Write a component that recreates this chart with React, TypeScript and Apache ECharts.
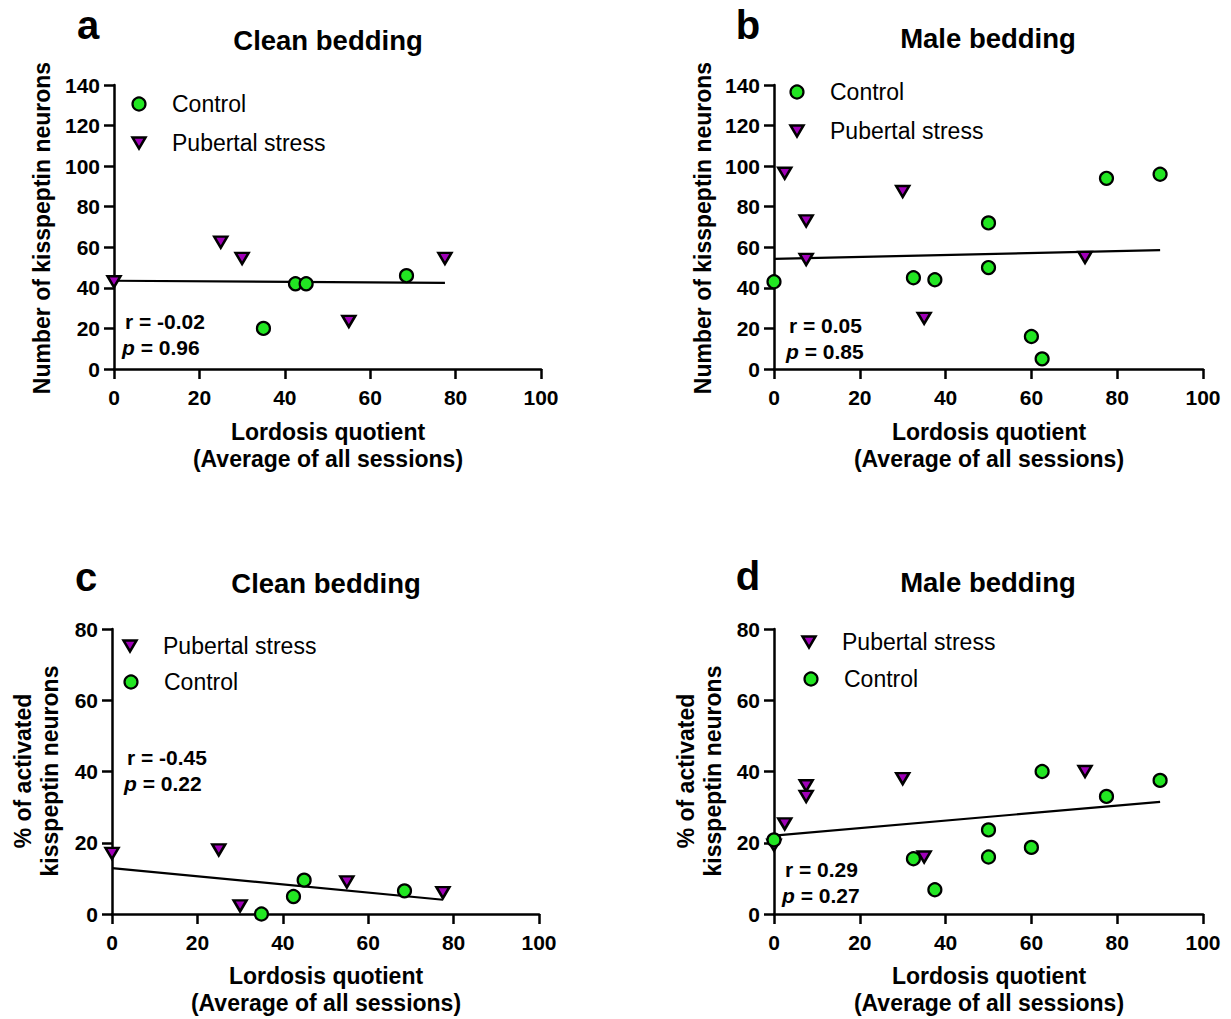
import React, { useEffect, useRef } from "react";
import * as echarts from "echarts";

const FONT = "'Liberation Sans', Arial, sans-serif";

// x = Lordosis quotient, y = value
const xTicks = [0, 20, 40, 60, 80, 100];

// Panel a: Clean bedding, number of kisspeptin neurons
const aControl = [[35, 20], [42.5, 42], [45, 42], [68.5, 46]];
const aStress = [[0, 43], [25, 62.5], [30, 54.5], [55, 23.5], [77.5, 54.5]];
const aFit = [[0, 43.5], [77.5, 42.5]];

// Panel b: Male bedding, number of kisspeptin neurons
const bControl = [[0, 43], [32.5, 45], [37.5, 44], [50, 72], [50, 50], [60, 16], [62.5, 5], [77.5, 94], [90, 96]];
const bStress = [[2.5, 96.5], [7.5, 73], [7.5, 54], [30, 87.5], [35, 25], [72.5, 55]];
const bFit = [[0, 54.3], [90, 58.6]];

// Panel c: Clean bedding, % activated
const cStress = [[0, 17], [25, 18], [30, 2.3], [55, 9], [77.5, 6]];
const cControl = [[35, 0], [42.5, 4.9], [45, 9.5], [68.5, 6.5]];
const cFit = [[0, 12.9], [77.5, 4]];

// Panel d: Male bedding, % activated
const dStress = [[0, 19.3], [2.5, 25.3], [7.5, 36], [7.5, 33], [30, 38], [35, 16], [72.5, 40]];
const dControl = [[0, 20.8], [32.5, 15.5], [37.5, 6.8], [50, 23.6], [50, 16], [60, 18.7], [62.5, 40], [77.5, 33], [90, 37.5]];
const dFit = [[0, 22], [90, 31.5]];

const yMaxTop = 140;
const yMaxBottom = 80;

const stats = [
  { r: "-0.02", p: "0.96" },
  { r: "0.05", p: "0.85" },
  { r: "-0.45", p: "0.22" },
  { r: "0.29", p: "0.27" },
];

const GREEN = "#22e622";
const PURPLE = "#a000b8";
const TRI = "path://M0,0 L20,0 L10,17 Z";

const grids = [
  { left: 114, top: 85, width: 427, height: 284 },
  { left: 774, top: 85, width: 429, height: 284 },
  { left: 112, top: 629, width: 427, height: 285 },
  { left: 774, top: 629, width: 429, height: 285 },
];

function xAxisCfg(i: number) {
  return {
    type: "value",
    gridIndex: i,
    min: xTicks[0],
    max: xTicks[xTicks.length - 1],
    interval: 20,
    axisLine: { show: true, onZero: false, lineStyle: { color: "#000", width: 2.5 } },
    axisTick: { show: true, length: 10, lineStyle: { color: "#000", width: 2.5 } },
    axisLabel: { color: "#000", fontSize: 21, fontWeight: "bold", fontFamily: FONT, margin: 18 },
    splitLine: { show: false },
  };
}
function yAxisCfg(i: number, max: number) {
  return {
    type: "value",
    gridIndex: i,
    min: 0,
    max,
    interval: 20,
    axisLine: { show: true, onZero: false, lineStyle: { color: "#000", width: 2.5 } },
    axisTick: { show: true, length: 10, lineStyle: { color: "#000", width: 2.5 } },
    axisLabel: { color: "#000", fontSize: 21, fontWeight: "bold", fontFamily: FONT, margin: 14 },
    splitLine: { show: false },
  };
}

function ctrlSeries(i: number, data: number[][]) {
  return {
    type: "scatter",
    name: "Control",
    xAxisIndex: i,
    yAxisIndex: i,
    data,
    symbol: "circle",
    symbolSize: 13,
    clip: false,
    z: 4,
    itemStyle: { color: GREEN, borderColor: "#000", borderWidth: 2.2, opacity: 1 },
  };
}
function stressSeries(i: number, data: number[][]) {
  return {
    type: "scatter",
    name: "Pubertal stress",
    xAxisIndex: i,
    yAxisIndex: i,
    data,
    symbol: TRI,
    symbolSize: [13, 11],
    clip: false,
    z: 3,
    itemStyle: { color: PURPLE, borderColor: "#000", borderWidth: 2.5, opacity: 1 },
  };
}
function fitSeries(i: number, data: number[][]) {
  return {
    type: "line",
    xAxisIndex: i,
    yAxisIndex: i,
    data,
    symbol: "none",
    clip: false,
    z: 2,
    lineStyle: { color: "#000", width: 2.2 },
  };
}

function txt(text: string, x: number, y: number, size: number, weight: string, align = "center", rotation = 0) {
  return {
    type: "text",
    x,
    y,
    rotation,
    style: {
      text,
      x: 0,
      y: 0,
      fill: "#000",
      fontFamily: FONT,
      fontSize: size,
      fontWeight: weight,
      font: `${weight} ${size}px ${FONT}`,
      textAlign: align,
      align,
      textVerticalAlign: "middle",
      verticalAlign: "middle",
    },
  };
}

function statText(i: number, x: number, y: number) {
  const base = { fill: "#000", fontFamily: FONT, fontSize: 21, fontWeight: "bold" };
  return [
    {
      type: "text",
      x,
      y,
      style: {
        ...base,
        text: `r = ${stats[i].r}`,
        font: `bold 21px ${FONT}`,
        textAlign: "left",
        align: "left",
        textVerticalAlign: "middle",
        verticalAlign: "middle",
      },
    },
    {
      type: "text",
      x: x - 3,
      y: y + 26,
      style: {
        ...base,
        text: `{i|p}{n| = ${stats[i].p}}`,
        font: `bold 21px ${FONT}`,
        textAlign: "left",
        align: "left",
        textVerticalAlign: "middle",
        verticalAlign: "middle",
        rich: {
          i: { fontStyle: "italic", fontWeight: "bold", fontSize: 21, fontFamily: FONT, fill: "#000" },
          n: { fontWeight: "bold", fontSize: 21, fontFamily: FONT, fill: "#000" },
        },
      },
    },
  ];
}

function legendItem(kind: "c" | "t", x: number, y: number, label: string) {
  const marker =
    kind === "c"
      ? {
          type: "circle",
          shape: { cx: x, cy: y, r: 6.5 },
          style: { fill: GREEN, stroke: "#000", lineWidth: 2.2 },
        }
      : {
          type: "polygon",
          shape: { points: [[x - 6.5, y - 5.5], [x + 6.5, y - 5.5], [x, y + 5.5]] },
          style: { fill: PURPLE, stroke: "#000", lineWidth: 2.5 },
        };
  return [marker, txt(label, x + 33, y, 23, "normal", "left")];
}

export default function App() {
  const ref = useRef<HTMLDivElement>(null);
  useEffect(() => {
    if (!ref.current) return;
    const chart = echarts.init(ref.current, undefined, { renderer: "svg" });
    const R = Math.PI / 2;
    const graphic: any[] = [
      // panel letters
      txt("a", 88, 25, 40, "bold"),
      txt("b", 748, 25, 40, "bold"),
      txt("c", 86, 577, 40, "bold"),
      txt("d", 748, 576, 40, "bold"),
      // titles
      txt("Clean bedding", 328, 40, 27.5, "bold"),
      txt("Male bedding", 988, 38, 27.5, "bold"),
      txt("Clean bedding", 326, 583, 27.5, "bold"),
      txt("Male bedding", 988, 582, 27.5, "bold"),
      // y axis names
      txt("Number of kisspeptin neurons", 42, 228, 23, "bold", "center", R),
      txt("Number of kisspeptin neurons", 703, 228, 23, "bold", "center", R),
      txt("% of activated", 23, 771, 23, "bold", "center", R),
      txt("kisspeptin neurons", 50, 771, 23, "bold", "center", R),
      txt("% of activated", 686, 771, 23, "bold", "center", R),
      txt("kisspeptin neurons", 713, 771, 23, "bold", "center", R),
      // x axis names
      txt("Lordosis quotient", 328, 432, 23, "bold"),
      txt("(Average of all sessions)", 328, 459, 23, "bold"),
      txt("Lordosis quotient", 989, 432, 23, "bold"),
      txt("(Average of all sessions)", 989, 459, 23, "bold"),
      txt("Lordosis quotient", 326, 976, 23, "bold"),
      txt("(Average of all sessions)", 326, 1003, 23, "bold"),
      txt("Lordosis quotient", 989, 976, 23, "bold"),
      txt("(Average of all sessions)", 989, 1003, 23, "bold"),
      // legends
      ...legendItem("c", 139, 104, "Control"),
      ...legendItem("t", 139, 143, "Pubertal stress"),
      ...legendItem("c", 797, 92, "Control"),
      ...legendItem("t", 797, 131, "Pubertal stress"),
      ...legendItem("t", 130, 646, "Pubertal stress"),
      ...legendItem("c", 131, 682, "Control"),
      ...legendItem("t", 809, 642, "Pubertal stress"),
      ...legendItem("c", 811, 679, "Control"),
      // stats
      ...statText(0, 125, 321),
      ...statText(1, 789, 325),
      ...statText(2, 127, 757),
      ...statText(3, 785, 869),
    ];

    chart.setOption({
      animation: false,
      backgroundColor: "#fff",
      grid: grids.map((g) => ({ ...g, containLabel: false })),
      xAxis: [0, 1, 2, 3].map((i) => xAxisCfg(i)),
      yAxis: [yAxisCfg(0, yMaxTop), yAxisCfg(1, yMaxTop), yAxisCfg(2, yMaxBottom), yAxisCfg(3, yMaxBottom)],
      series: [
        fitSeries(0, aFit),
        stressSeries(0, aStress),
        ctrlSeries(0, aControl),
        fitSeries(1, bFit),
        stressSeries(1, bStress),
        ctrlSeries(1, bControl),
        fitSeries(2, cFit),
        stressSeries(2, cStress),
        ctrlSeries(2, cControl),
        fitSeries(3, dFit),
        stressSeries(3, dStress),
        ctrlSeries(3, dControl),
      ],
      graphic,
    });
    return () => chart.dispose();
  }, []);
  return (
    <div
      ref={ref}
      style={{ position: "fixed", left: 0, top: 0, width: 1231, height: 1019, background: "#fff" }}
    />
  );
}
